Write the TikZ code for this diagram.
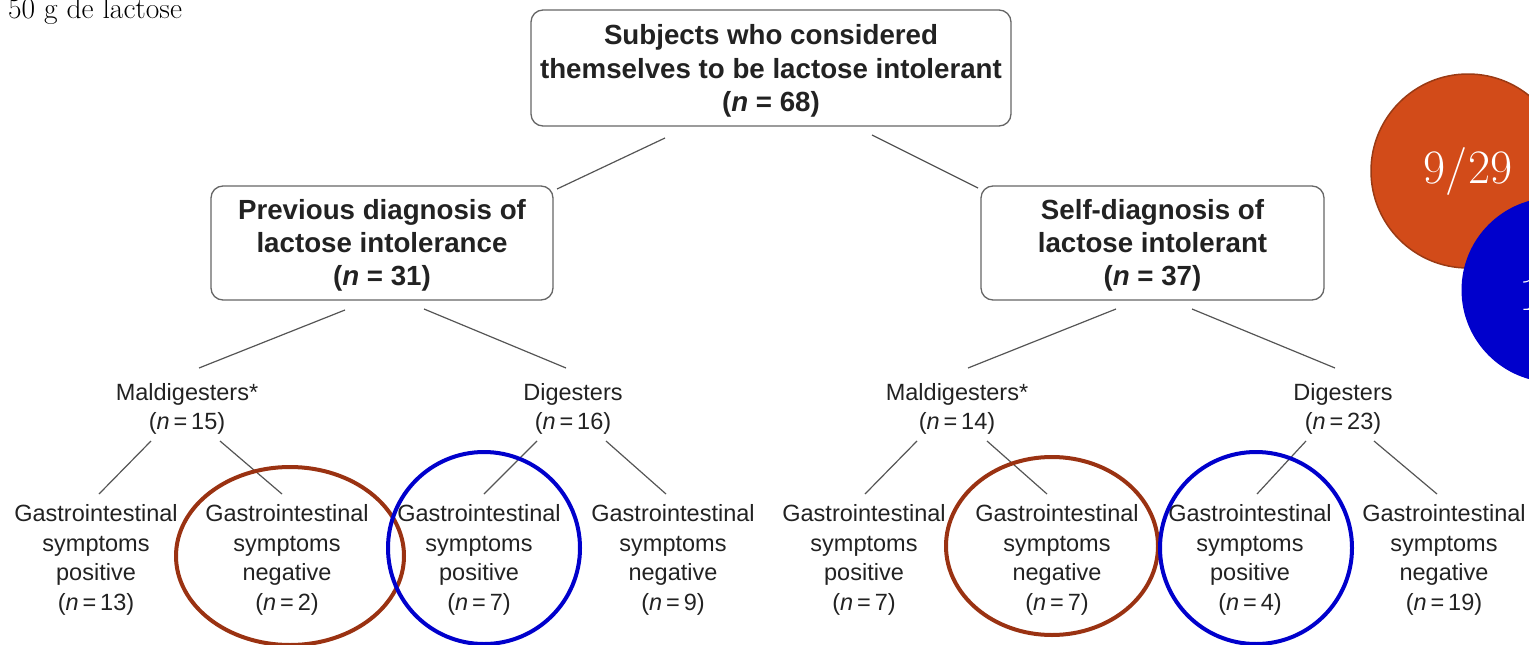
\documentclass[tikz,border=0pt]{standalone}
\usepackage{fontspec}
\newfontfamily\hv{Liberation Sans}
\definecolor{txt}{HTML}{222222}
\definecolor{boxgray}{HTML}{666666}
\definecolor{linegray}{HTML}{555555}
\definecolor{brownc}{HTML}{9A3212}
\definecolor{bluec}{HTML}{0000CC}
\definecolor{orangec}{HTML}{D24B19}
\definecolor{orangeb}{HTML}{9A3A14}
\tikzset{
  bigbox/.style={draw=boxgray, line width=1.3pt, rounded corners=12pt, inner sep=0pt},
  boxtext/.style={align=center, font=\hv\bfseries\fontsize{27.7}{33.3}\selectfont, text=txt, inner sep=0pt},
  midtext/.style={align=center, font=\hv\fontsize{23.5}{29.5}\selectfont, text=txt, inner sep=0pt},
  leaftext/.style={align=center, font=\hv\fontsize{23.5}{29.7}\selectfont, text=txt, inner sep=0pt},
  conn/.style={draw=linegray, line width=1.2pt},
  ringbrown/.style={draw=brownc, line width=4pt},
  ringblue/.style={draw=bluec, line width=4pt},
}
\begin{document}
\begin{tikzpicture}[x=1pt,y=-1pt]
\useasboundingbox (0,0) rectangle (1529,645);

% top-left caption
\node[anchor=base west, inner sep=0pt, font=\fontsize{29.5}{32}\selectfont] (cap) at (8,18) {50 g de lactose};

% boxes
\node[bigbox, minimum width=480pt, minimum height=116pt] (top) at (771,68) {};
\node[boxtext] (topt) at (771,71)
  {Subjects who considered\\themselves to be lactose intolerant\\(\textit{n} = 68)};
\node[bigbox, minimum width=342pt, minimum height=114pt] (left) at (382,243) {};
\node[boxtext] (leftt) at (382,245.5)
  {Previous diagnosis of\\lactose intolerance\\(\textit{n} = 31)};
\node[bigbox, minimum width=343pt, minimum height=114pt] (right) at (1152.5,243) {};
\node[boxtext] (rightt) at (1152.5,245.5)
  {Self-diagnosis of\\lactose intolerant\\(\textit{n} = 37)};

% middle level
\node[midtext] (lm) at (187,409) {Maldigesters*\\(\textit{n}\,=\,15)};
\node[midtext] (ld) at (573,409) {Digesters\\(\textit{n}\,=\,16)};
\node[midtext] (rm) at (957,409) {Maldigesters*\\(\textit{n}\,=\,14)};
\node[midtext] (rd) at (1343,409) {Digesters\\(\textit{n}\,=\,23)};

% leaves
\node[leaftext] (l1) at (96,560) {Gastrointestinal\\symptoms\\positive\\(\textit{n}\,=\,13)};
\node[leaftext] (l2) at (287,560) {Gastrointestinal\\symptoms\\negative\\(\textit{n}\,=\,2)};
\node[leaftext] (l3) at (479,560) {Gastrointestinal\\symptoms\\positive\\(\textit{n}\,=\,7)};
\node[leaftext] (l4) at (673,560) {Gastrointestinal\\symptoms\\negative\\(\textit{n}\,=\,9)};
\node[leaftext] (l5) at (864,560) {Gastrointestinal\\symptoms\\positive\\(\textit{n}\,=\,7)};
\node[leaftext] (l6) at (1057,560) {Gastrointestinal\\symptoms\\negative\\(\textit{n}\,=\,7)};
\node[leaftext] (l7) at (1250,560) {Gastrointestinal\\symptoms\\positive\\(\textit{n}\,=\,4)};
\node[leaftext] (l8) at (1444,560) {Gastrointestinal\\symptoms\\negative\\(\textit{n}\,=\,19)};

% connector end points
\coordinate (tA) at (665,138); \coordinate (lA) at (557,189);
\coordinate (tB) at (872,135); \coordinate (rB) at (978,188);
\coordinate (lC) at (345,310); \coordinate (lmC) at (199,368);
\coordinate (lD) at (424,309); \coordinate (ldD) at (566,368);
\coordinate (rE) at (1116,309); \coordinate (rmE) at (968,368);
\coordinate (rF) at (1192,309); \coordinate (rdF) at (1335,368);
\coordinate (lm1) at (151,441); \coordinate (l1t) at (99,494);
\coordinate (lm2) at (220,441); \coordinate (l2t) at (282,494);
\coordinate (ld3) at (537,441); \coordinate (l3t) at (484,494);
\coordinate (ld4) at (606,441); \coordinate (l4t) at (666,494);
\coordinate (rm5) at (917,441); \coordinate (l5t) at (865,494);
\coordinate (rm6) at (987,441); \coordinate (l6t) at (1047,494);
\coordinate (rd7) at (1306,441); \coordinate (l7t) at (1257,494);
\coordinate (rd8) at (1374,441); \coordinate (l8t) at (1437,494);

\draw[conn] (tA) -- (lA);
\draw[conn] (tB) -- (rB);
\draw[conn] (lC) -- (lmC);
\draw[conn] (lD) -- (ldD);
\draw[conn] (rE) -- (rmE);
\draw[conn] (rF) -- (rdF);
\draw[conn] (lm1) -- (l1t);
\draw[conn] (lm2) -- (l2t);
\draw[conn] (ld3) -- (l3t);
\draw[conn] (ld4) -- (l4t);
\draw[conn] (rm5) -- (l5t);
\draw[conn] (rm6) -- (l6t);
\draw[conn] (rd7) -- (l7t);
\draw[conn] (rd8) -- (l8t);

% highlight rings
\draw[ringbrown] (290,556) ellipse [x radius=114, y radius=89];
\draw[ringblue] (484,548) circle [radius=96];
\draw[ringbrown] (1052,546) ellipse [x radius=106, y radius=89];
\draw[ringblue] (1256,548) circle [radius=96];

% fraction discs
\node[circle, fill=orangec, draw=orangeb, line width=1.5pt, minimum size=194pt, inner sep=0pt,
  text=white, font=\fontsize{48}{48}\selectfont] (fa) at (1468,171) {9/29};
\node[circle, fill=bluec, minimum size=185pt, inner sep=0pt] (fb) at (1554,290) {};
\node[anchor=west, inner sep=0pt, text=white, font=\fontsize{48}{48}\selectfont] (fbt) at (1519,295) {1};
\end{tikzpicture}
\end{document}
